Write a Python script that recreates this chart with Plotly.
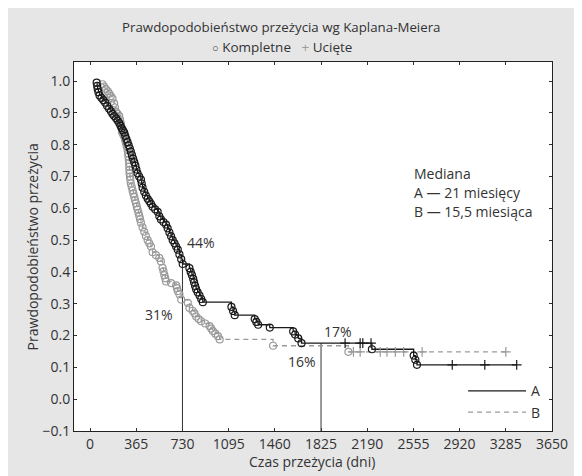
import numpy as np
import plotly.graph_objects as go

# ---------------- data ----------------
a_event_t = [52, 56, 60, 66, 75, 90, 105, 120, 135, 150, 165, 177, 190, 205, 218, 230, 240, 250, 260, 270,
             278, 287, 296, 305, 314, 322, 331, 340, 349, 358, 366, 375, 388, 402, 408, 415, 428, 441, 455, 468,
             481, 494, 514, 534, 547, 560, 580, 600, 613, 627, 640, 653, 667, 680, 693, 706, 720, 732, 785, 795,
             805, 815, 822, 830, 838, 850, 865, 878, 891, 1117, 1130, 1143, 1301, 1314, 1328, 1420, 1605, 1620,
             1645, 1671, 2227, 2557, 2570, 2583]
a_event_s = [0.995, 0.985, 0.975, 0.965, 0.955, 0.947, 0.94, 0.932, 0.922, 0.913, 0.905, 0.897, 0.89, 0.883,
             0.876, 0.868, 0.86, 0.852, 0.845, 0.838, 0.828, 0.818, 0.808, 0.798, 0.788, 0.778, 0.767, 0.756,
             0.745, 0.734, 0.722, 0.71, 0.70, 0.69, 0.678, 0.665, 0.652, 0.64, 0.63, 0.622, 0.614, 0.605, 0.597,
             0.589, 0.575, 0.565, 0.557, 0.549, 0.537, 0.524, 0.512, 0.50, 0.49, 0.48, 0.47, 0.455, 0.44, 0.425,
             0.412, 0.40, 0.39, 0.378, 0.367, 0.356, 0.346, 0.336, 0.326, 0.315, 0.305, 0.29, 0.277, 0.264,
             0.252, 0.243, 0.234, 0.225, 0.213, 0.203, 0.191, 0.176, 0.157, 0.137, 0.124, 0.108]
a_cens_t = [2015, 2134, 2155, 2220, 2862, 3119, 3371]

b_event_t = [98, 110, 125, 140, 152, 164, 177, 190, 197, 204, 217, 230, 237, 243, 247, 252, 262, 270, 277, 283,
             290, 296, 300, 303, 306, 309, 310, 311, 312, 315, 318, 322, 329, 336, 342, 349, 355, 362, 369, 375,
             382, 389, 395, 402, 415, 428, 441, 455, 468, 481, 494, 520, 547, 560, 573, 580, 587, 594, 600, 640,
             680, 687, 693, 706, 720, 772, 785, 810, 825, 838, 858, 878, 910, 944, 957, 970, 990, 1010, 1024,
             1446, 2041]
b_event_s = [0.99, 0.983, 0.975, 0.968, 0.96, 0.953, 0.945, 0.93, 0.917, 0.904, 0.897, 0.89, 0.878, 0.867,
             0.853, 0.84, 0.832, 0.825, 0.815, 0.805, 0.795, 0.784, 0.773, 0.763, 0.752, 0.742, 0.731, 0.72,
             0.71, 0.70, 0.69, 0.678, 0.667, 0.656, 0.646, 0.636, 0.626, 0.616, 0.606, 0.596, 0.586, 0.576,
             0.566, 0.555, 0.54, 0.526, 0.513, 0.50, 0.49, 0.48, 0.462, 0.453, 0.444, 0.433, 0.413, 0.402,
             0.39, 0.38, 0.37, 0.365, 0.358, 0.349, 0.34, 0.33, 0.313, 0.303, 0.287, 0.278, 0.27, 0.26, 0.252,
             0.245, 0.238, 0.23, 0.222, 0.214, 0.206, 0.198, 0.188, 0.168, 0.149]
b_cens_t = [2081, 2134, 2293, 2346, 2412, 2478, 2624, 3285]

x_ticks = [0, 365, 730, 1095, 1460, 1825, 2190, 2555, 2920, 3285, 3650]
y_ticks = [-0.1, 0.0, 0.1, 0.2, 0.3, 0.4, 0.5, 0.6, 0.7, 0.8, 0.9, 1.0]

marker_times = [730, 1825]
pct_labels_a = ["44%", "17%"]
pct_labels_b = ["31%", "16%"]

title_text = "Prawdopodobieństwo przeżycia wg Kaplana-Meiera"
median_lines = ["Mediana", "A — 21 miesięcy", "B — 15,5 miesiąca"]

# ---------------- helpers ----------------
def surv(ev_t, ev_s, t):
    idx = np.searchsorted(np.asarray(ev_t), t, side="right") - 1
    return 1.0 if idx < 0 else ev_s[idx]

def step_points(ev_t, ev_s, cens_t):
    pts = list(zip(ev_t, ev_s)) + [(t, surv(ev_t, ev_s, t)) for t in cens_t]
    pts.sort(key=lambda p: p[0])
    return [p[0] for p in pts], [p[1] for p in pts]

BLACK = "#1a1a1a"
GRAY = "#9a9a9a"
FONT = "Open Sans"
TXT = "#333333"

fig = go.Figure()

# vertical marker lines at 2 and 5 years (reach curve A)
for t in marker_times:
    fig.add_trace(go.Scatter(x=[t, t], y=[y_ticks[0], surv(a_event_t, a_event_s, t)], mode="lines",
                             line=dict(color="#333333", width=1), showlegend=False, hoverinfo="skip"))

ax, ay = step_points(a_event_t, a_event_s, a_cens_t)
bx, by = step_points(b_event_t, b_event_s, b_cens_t)

fig.add_trace(go.Scatter(x=bx, y=by, mode="lines", line=dict(color=GRAY, width=1.3, dash="5px,4px", shape="hv"),
                         name="B", showlegend=True))
fig.add_trace(go.Scatter(x=ax, y=ay, mode="lines", line=dict(color=BLACK, width=1.3, shape="hv"),
                         name="A", showlegend=True))

fig.add_trace(go.Scatter(x=b_event_t, y=b_event_s, mode="markers",
                         marker=dict(symbol="circle-open", size=7, color=GRAY, line=dict(width=1.2)),
                         showlegend=False))
fig.add_trace(go.Scatter(x=b_cens_t, y=[surv(b_event_t, b_event_s, t) for t in b_cens_t], mode="markers",
                         marker=dict(symbol="cross-thin-open", size=7, color=GRAY, line=dict(width=1.2, color=GRAY)),
                         showlegend=False))
fig.add_trace(go.Scatter(x=a_event_t, y=a_event_s, mode="markers",
                         marker=dict(symbol="circle-open", size=7, color=BLACK, line=dict(width=1.2)),
                         showlegend=False))
fig.add_trace(go.Scatter(x=a_cens_t, y=[surv(a_event_t, a_event_s, t) for t in a_cens_t], mode="markers",
                         marker=dict(symbol="cross-thin-open", size=7, color=BLACK, line=dict(width=1.2, color=BLACK)),
                         showlegend=False))

annotations = []
# percentage labels
pct_pos = [(873, 0.492), (1960, 0.213)]
for (x, y), lab in zip(pct_pos, pct_labels_a):
    annotations.append(dict(x=x, y=y, text=lab, showarrow=False, xanchor="center", yanchor="middle",
                            font=dict(size=14, color=TXT, family=FONT)))
pct_pos_b = [(547, 0.266), (1674, 0.119)]
for (x, y), lab in zip(pct_pos_b, pct_labels_b):
    annotations.append(dict(x=x, y=y, text=lab, showarrow=False, xanchor="center", yanchor="middle",
                            font=dict(size=14, color=TXT, family=FONT)))
# median block
for i, line in enumerate(median_lines):
    annotations.append(dict(x=2547, y=0.711 - i * 0.061, text=line, xanchor="left", yanchor="middle",
                            showarrow=False, font=dict(size=14, color=TXT, family=FONT)))
# title and symbol legend
annotations.append(dict(xref="paper", yref="paper", x=0.435, y=1.095, text=title_text, showarrow=False,
                        xanchor="center", yanchor="middle", font=dict(size=13.3, color=TXT, family=FONT)))
annotations.append(dict(xref="paper", yref="paper", x=0.435, y=1.041,
                        text="<span style='font-size:11px'>○</span> Kompletne   "
                             "<span style='color:#9a9a9a'>+</span> Ucięte",
                        showarrow=False, xanchor="center", yanchor="middle",
                        font=dict(size=13.5, color=TXT, family=FONT)))
# axis titles
annotations.append(dict(xref="paper", yref="paper", x=0.498, y=-0.084, text="Czas przeżycia (dni)",
                        showarrow=False, xanchor="center", yanchor="middle",
                        font=dict(size=14, color=TXT, family=FONT)))
annotations.append(dict(xref="paper", yref="paper", x=-0.086, y=0.5, text="Prawdopodobieństwo przeżycia",
                        textangle=-90, showarrow=False, xanchor="center", yanchor="middle",
                        font=dict(size=14, color=TXT, family=FONT)))

fig.update_layout(
    width=582, height=476,
    margin=dict(l=66, r=38, t=54, b=53),
    paper_bgcolor="#e6e6e7",
    plot_bgcolor="white",
    font=dict(family=FONT, size=14, color=TXT),
    annotations=annotations,
    legend=dict(x=0.814, y=0.151, xanchor="left", yanchor="top", bgcolor="rgba(0,0,0,0)",
                traceorder="reversed", font=dict(size=14, color=TXT, family=FONT), itemwidth=58,
                tracegroupgap=0),
)
fig.update_xaxes(range=[-127, 3650], tickvals=x_ticks, ticks="inside", ticklen=3, tickcolor="#333",
                 showline=True, linecolor="#222", linewidth=1, mirror="ticks", showgrid=False, zeroline=False,
                 tickfont=dict(size=14, color=TXT, family=FONT))
fig.update_yaxes(range=[-0.1, 1.06], tickvals=y_ticks, tickformat=".1f", ticks="inside", ticklen=3,
                 tickcolor="#333", showline=True, linecolor="#222", linewidth=1, mirror="ticks",
                 showgrid=False, zeroline=False, tickfont=dict(size=14, color=TXT, family=FONT))

fig.write_html("out.html")
